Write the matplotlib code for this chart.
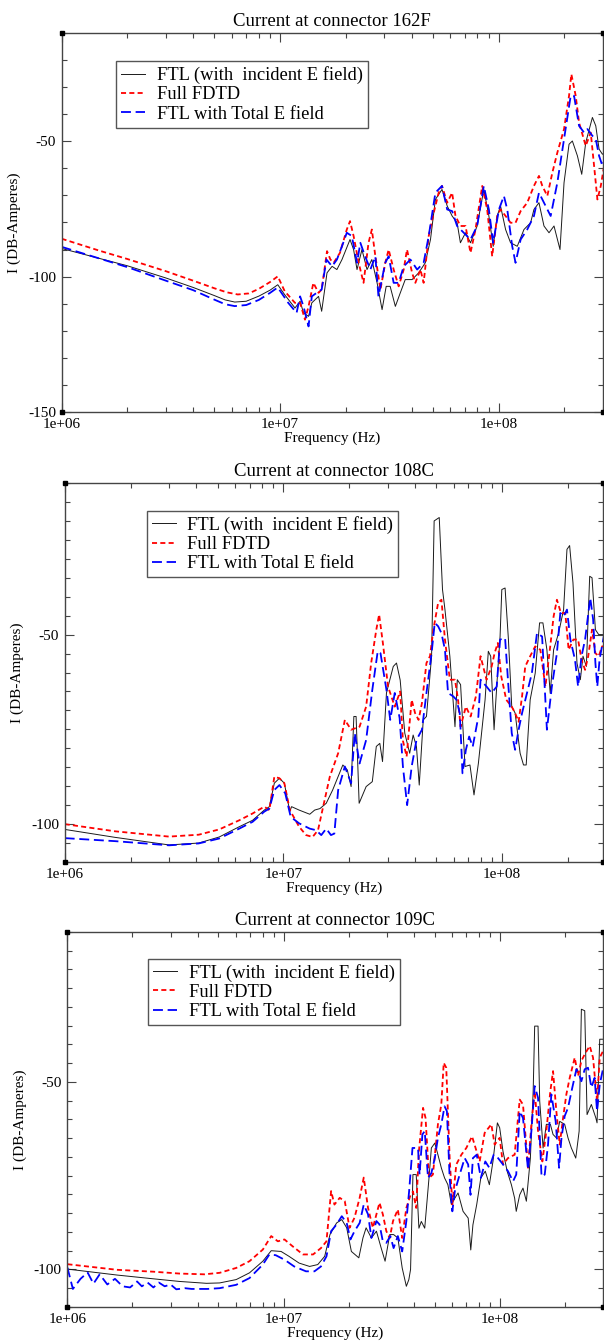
import numpy as np
import matplotlib
matplotlib.use('Agg')
import matplotlib.pyplot as plt
from matplotlib.ticker import FixedLocator, LogLocator, MultipleLocator, NullFormatter

plt.rcParams['font.family'] = ['Liberation Serif', 'DejaVu Serif']
plt.rcParams['axes.unicode_minus'] = False

# frequencies in MHz, currents in dB-Amperes

# ---- connector 162F ----
f162_ftl = [1, 2, 3, 4, 5, 5.6, 6.2, 7, 8, 9, 9.76, 10.5, 11.7, 12.35, 12.8, 13.5, 13.97, 15.0, 15.5, 16.4, 17.3,
            18.2, 19.2, 20.9, 21.7, 22.5, 23.7, 25.0, 26.3, 27.8, 29.3, 30.6, 31.9, 33.7, 35.5, 37.4, 40.2,
            43.1, 46.2, 48.8, 51.4, 55.1, 58.2, 61.3, 64.6, 66.9, 70.6, 74.4, 79.8, 85.6, 90.3, 94.5, 98.6,
            102.1, 107.7, 113.5, 121.8, 130.7, 140.2, 145.2, 153.1, 161.4, 170.2, 179.4, 191.1, 199.4, 210.2,
            217.7, 229.6, 240.3, 250.6, 268.9, 278.6, 288.5, 298.9, 306]
i162_ftl = [-89.6, -96, -100.5, -104, -107, -108.6, -109.4, -109.1, -107.2, -105, -103, -106.7, -111.6, -109.1,
            -113.4, -114.7, -109.7, -107.3, -112.8, -98.6, -96.2, -97.4, -93.7, -86.3, -90.0, -97.4, -90.0,
            -97.4, -93.7, -102.3, -112.2, -103.6, -103.6, -111.0, -106.0, -101.1, -101.1, -98.6, -94.9, -86.3,
            -71.5, -67.8, -73.9, -77.6, -80.1, -87.5, -83.8, -87.5, -81.3, -67.8, -77.6, -88.8, -77.6, -73.9,
            -82.6, -87.5, -88.8, -82.6, -80.1, -75.2, -72.7, -81.3, -83.8, -81.3, -90.0, -65.3, -51.1, -49.9,
            -55.4, -62.2, -50.5, -41.2, -44.3, -52.9, -54.8, -54.2]

f162_fdtd = [1, 1.5, 2, 3, 4, 5, 5.7, 6.4, 7.2, 8, 9, 9.76, 10.5, 11.7, 12.35, 13.0, 13.5, 14.2, 15.0, 15.5, 16.4,
             17.0, 17.6, 18.8, 20.2, 20.9, 21.7, 22.9, 24.1, 25.4, 26.3, 27.3, 28.8, 30.3, 31.4, 33.1, 34.9,
             36.8, 38.1, 40.2, 41.6, 43.9, 45.4, 47.9, 50.5, 53.2, 55.1, 58.2, 61.3, 63.5, 66.9, 70.6, 74.4,
             78.4, 84.2, 88.7, 93.5, 98.6, 102.1, 107.7, 113.5, 119.6, 126.2, 135.3, 145.2, 153.1, 158.6, 167.2,
             176.3, 185.8, 199.4, 210.2, 215.4, 225.5, 233.6, 250.6, 264.2, 273.7, 283.5, 293.7, 306]
i162_fdtd = [-86, -90.5, -93.5, -98, -101.5, -104.3, -105.8, -106.6, -106.2, -104.5, -102, -99.9, -105.4, -109.7,
             -109.7, -115.9, -111, -102.3, -106, -104.8, -90.6, -93.7, -94.9, -91.2, -82.6, -79.5, -85.0, -94.9,
             -102.3, -87.5, -82.6, -92.5, -104.8, -94.9, -90.0, -97.4, -103.6, -97.4, -90.0, -98.6, -102.3,
             -97.4, -102.3, -85.0, -76.4, -69.0, -66.5, -72.7, -69.0, -77.6, -81.3, -81.3, -91.2, -82.6, -66.5,
             -75.2, -92.5, -77.6, -75.2, -77.6, -80.1, -80.1, -75.8, -72.7, -66.5, -62.8, -66.5, -70.2, -61.6,
             -54.2, -45.5, -33.2, -25.2, -33.2, -43.1, -51.7, -46.8, -59.1, -71.5, -66.5, -57.9]

f162_tot = [1, 2, 3, 4, 5, 5.6, 6.2, 7, 8, 9, 9.76, 10.9, 11.9, 12.35, 12.8, 13.5, 13.97, 14.7, 15.5, 16.3, 17.3,
            18.2, 19.2, 20.2, 21.3, 22.5, 23.3, 24.5, 25.9, 27.3, 28.2, 30.3, 31.4, 33.1, 34.9, 36.8, 39.5, 42.4,
            45.4, 47.9, 51.4, 55.1, 58.2, 61.3, 64.6, 69.3, 74.4, 79.8, 85.6, 90.3, 94.5, 100.4, 105.8, 109.6,
            115.5, 119.6, 126.2, 135.3, 145.2, 153.1, 161.4, 173.2, 185.8, 199.4, 213.9, 221.6, 233.6, 246.3,
            255.1, 268.9, 278.6, 288.5, 298.9, 306]
i162_tot = [-89, -96.5, -101.5, -105, -108.5, -110.2, -110.9, -110.5, -108.6, -106, -104, -109.7, -113.4, -107.3,
            -111.0, -118.4, -107.3, -106.0, -104.8, -93.7, -96.2, -93.7, -88.8, -83.8, -85.0, -94.9, -87.5,
            -92.5, -97.4, -92.5, -107.3, -94.9, -92.5, -102.3, -102.3, -96.2, -93.7, -97.4, -94.9, -85.0, -69.0,
            -66.5, -75.2, -75.8, -81.3, -83.8, -86.3, -81.3, -66.5, -75.2, -87.5, -75.2, -70.2, -75.2, -88.8,
            -94.9, -86.3, -82.6, -77.6, -69.0, -72.7, -77.6, -65.3, -49.2, -33.2, -33.2, -44.3, -46.8, -45.5,
            -48.0, -49.2, -55.4, -59.1, -56.6]

# ---- connector 108C ----
f108_ftl = [1, 1.7, 3, 4.1, 5.09, 6.28, 7.23, 8.18, 8.63, 9.09, 9.59, 10.1, 10.7, 10.9, 11.8, 13.2, 13.9, 14.7,
            15.7, 16.8, 18.7, 19.6, 20.4, 21.0, 21.5, 22.2, 23.9, 25.5, 26.6, 27.6, 28.4, 29.6, 31.8, 32.9,
            34.2, 35.9, 37.8, 39.2, 40.6, 41.8, 43.6, 45.1, 47.6, 48.9, 51.6, 53.4, 54.8, 57.7, 60.9, 62.4,
            64.6, 67.7, 71.3, 74.4, 77.9, 83.6, 86.5, 88.7, 91.9, 94.5, 97.9, 99.7, 103.2, 106.9, 110.7, 114.7,
            120.9, 125.3, 128.9, 134.4, 141.7, 148.4, 153.7, 160.3, 166.0, 172.0, 181.3, 191.1, 198.0, 203.6,
            210.9, 220.0, 227.9, 234.4, 242.8, 251.5, 257.8, 267.1, 276.6, 293.7, 306]
i108_ftl = [-101.4, -103.5, -105.5, -105, -103.4, -100.7, -99.0, -96.3, -95.4, -89.2, -87.9, -89.2, -96.7, -95.4,
            -96.3, -97.4, -96.3, -95.9, -94.5, -91.0, -84.4, -85.7, -90.1, -71.6, -71.6, -94.5, -90.1, -88.8,
            -79.5, -78.7, -83.5, -65.4, -58.4, -57.5, -62, -76.0, -81.3, -76.5, -79.6, -89.7, -72.5, -71.6,
            -55.7, -20.0, -19.1, -38.1, -43.4, -55.7, -74.3, -61.9, -63.2, -84.8, -84.4, -92.3, -84.0, -67.2,
            -54.4, -55.7, -75.1, -63.7, -50.5, -38.1, -37.7, -51.3, -69.0, -70.7, -81.3, -84.4, -84.4, -67.2,
            -60.2, -46.9, -46.9, -54.0, -65.5, -54.0, -49.6, -43.4, -27.5, -26.5, -36.3, -57.5, -61.9, -55.7,
            -58.4, -34.6, -35.0, -48.7, -50.0, -50.0, -50.0]

f108_fdtd = [1, 1.7, 3, 4.1, 5.09, 6.28, 7.23, 8.18, 8.63, 9.09, 9.59, 10.1, 10.7, 11.8, 12.7, 13.6, 14.4, 15.2,
             16.3, 17.8, 19.1, 20.4, 22.3, 23.9, 25.2, 26.6, 27.4, 28.5, 30.1, 32.3, 34.2, 35.2, 36.6, 38.6,
             40.0, 41.5, 43.0, 45.1, 46.8, 48.5, 51.0, 52.8, 54.8, 57.7, 60.9, 62.9, 64.6, 68.3, 71.8, 75.9,
             79.7, 84.9, 89.6, 92.4, 95.6, 99.1, 104.5, 110.7, 114.7, 119.0, 123.4, 127.6, 134.4, 141.7, 149.6,
             157.8, 166.0, 172.0, 178.1, 185.8, 194.5, 201.5, 211.9, 222.6, 230.8, 239.6, 247.6, 257.8, 267.1,
             276.6, 286.6, 306]
i108_fdtd = [-100, -101.9, -103.3, -102.8, -101.4, -99.0, -97.2, -95.4, -96.3, -87.5, -87.9, -89.2, -96.3,
             -100.7, -102.9, -103.4, -101.6, -95.4, -87.5, -81.3, -72.5, -75.1, -74.3, -69.0, -57.5, -48.7,
             -44.7, -52.2, -63.7, -69.0, -65, -78, -82.2, -67.2, -70.7, -72.5, -68.1, -57.5, -55.7, -48.7,
             -41.6, -40.8, -51.3, -61.9, -61.9, -67.2, -74.3, -69.0, -71.6, -66.3, -55.7, -61.9, -58.4, -54.9,
             -52.2, -61.0, -67.2, -69.0, -70.7, -73.0, -66.3, -58.4, -55.7, -53.1, -54.0, -63.7, -53.1, -45.2,
             -40.8, -44.3, -44.3, -54.0, -51.3, -51.3, -56.6, -59.3, -55.7, -48.7, -54.9, -55.7, -53.1, -53.1]

f108_tot = [1, 1.7, 3, 4.1, 5.09, 6.28, 7.23, 8.18, 8.63, 9.09, 9.59, 10.2, 10.8, 11.8, 13.2, 14.1, 14.9, 15.7,
            16.5, 17.1, 17.8, 19.1, 20.4, 21.2, 22.3, 23.9, 25.5, 27.0, 27.8, 29.6, 30.8, 32.3, 34.0, 35.2,
            36.8, 38.6, 40.6, 43.0, 45.1, 47.6, 49.2, 51.0, 52.8, 54.8, 56.6, 59.8, 61.9, 64.0, 64.6, 65.9,
            68.3, 70.7, 73.4, 77.9, 79.7, 84.9, 89.6, 94.5, 97.9, 103.2, 106.9, 110.7, 114.7, 119.0, 123.4,
            130.0, 136.8, 144.4, 152.4, 160.3, 168.9, 178.1, 184.6, 191.1, 198.0, 205.2, 215.4, 222.6, 230.8,
            239.6, 253.0, 260.8, 267.1, 272.5, 279.0, 293.7, 306]
i108_tot = [-103.7, -104.5, -105.6, -105.1, -103.8, -101.2, -99.4, -96.7, -95.9, -91.0, -89.7, -91.9, -98.1,
            -99.8, -101.2, -101.6, -102.9, -101.2, -102.9, -102.5, -91.0, -84.8, -89.2, -76.0, -84.0, -77.8,
            -64.6, -54.4, -54.9, -64.6, -72.5, -65.4, -72, -84.8, -95, -84.8, -77.8, -75.1, -65.4, -54.9,
            -46.9, -47.8, -49.6, -54.0, -65.4, -66.3, -67.2, -70.7, -75.1, -86.6, -80.4, -76.9, -79.6, -71.6,
            -61.9, -63.7, -65.4, -63.7, -51.3, -50.9, -63.7, -76.0, -80.4, -75.1, -70.7, -65.4, -60.2, -49.6,
            -50.5, -75.1, -63.7, -54.9, -44.3, -45.2, -43.4, -51.3, -56.6, -63.7, -55.7, -51.3, -40.3, -46.0,
            -57.5, -63.7, -56.6, -49.6, -48]

# ---- connector 109C ----
f109_ftl = [1, 1.7, 2.5, 3.3, 4.4, 5.06, 6.04, 6.96, 8.02, 8.77, 9.74, 10.6, 11.8, 13.2, 14.4, 15.5, 16.4, 17.6,
            18.6, 19.6, 20.6, 22.3, 23.3, 24.1, 25.5, 26.9, 28.3, 29.5, 31.0, 32.3, 33.8, 35.4, 37.0, 38.0,
            38.7, 39.7, 41.1, 42.3, 43.4, 45.0, 47.1, 48.3, 50.1, 51.8, 53.7, 55.6, 57.6, 59.8, 62.0, 64.2,
            67.7, 71.5, 73.5, 75.2, 78.3, 81.8, 85.8, 89.6, 93.1, 97.6, 100, 103.6, 108.3, 113.3, 117.3, 119.3,
            123.8, 128.2, 132.9, 138.7, 142.9, 145.2, 150.5, 153.2, 158.8, 164.4, 171.6, 176.6, 182.9, 189.6,
            199.9, 207.1, 214.6, 224.9, 233.2, 238.8, 247.5, 253.7, 265.6, 278.6, 282.2, 290.4, 306]
i109_ftl = [-99.9, -101.5, -102.5, -103.2, -103.7, -103.6, -102.7, -100.9, -97.8, -95.0, -95.2, -96.5, -98.3,
            -99.2, -98.7, -96.5, -90.7, -87.6, -86.7, -88.9, -95.2, -96.9, -91.6, -88.9, -91.6, -89.8, -94.3,
            -97.8, -90.7, -90.7, -91.6, -99.6, -104.5, -102.7, -100, -74.7, -74.7, -89.0, -87.2, -89.0, -75.6,
            -67.6, -66.3, -69.4, -72.9, -75.6, -77.4, -82.7, -81.0, -79.6, -84.5, -86.3, -94.8, -88.1, -82.7,
            -75.6, -73.8, -77.4, -71.2, -60.9, -62.2, -68.5, -73.8, -77.4, -81.0, -84.5, -80.1, -78.3, -81.8,
            -70.3, -52.4, -35.1, -35.1, -55.1, -67.6, -61.3, -61.3, -64.0, -64.9, -60.5, -61.3, -64.9, -67.6,
            -70.3, -63.1, -30.6, -31.0, -58.7, -56.0, -59.6, -60.9, -38.6, -38.6]

f109_fdtd = [1, 1.7, 2.5, 3.3, 4.3, 5.06, 6.04, 6.96, 8.02, 8.77, 9.41, 10.1, 11.0, 12.3, 13.7, 14.9, 15.8, 16.6,
             17.2, 18.2, 19.2, 20.2, 21.3, 22.5, 23.5, 24.6, 25.9, 26.9, 27.8, 28.8, 29.9, 31.0, 32.1, 33.8,
             35.4, 37.0, 38.5, 39.7, 41.1, 42.3, 44.2, 45.4, 47.1, 49.1, 51.8, 53.7, 55.1, 56.6, 58.7, 60.4,
             63.0, 66.5, 70.1, 74.5, 80.8, 85.2, 91.5, 94.8, 100, 103.6, 109.3, 117.3, 123.8, 128.2, 135.3,
             140.2, 145.2, 150.5, 157.6, 164.4, 171.6, 176.6, 182.9, 189.6, 196.5, 203.5, 210.9, 222.5, 230.5,
             238.8, 247.5, 261.0, 270.4, 282.2, 290.4, 306]
i109_fdtd = [-98.6, -100.1, -100.6, -101.1, -101.3, -100.9, -99.6, -97.8, -94.7, -91.1, -92.5, -92.0, -93.8,
             -96.0, -96.0, -94.3, -92.5, -79.1, -82.7, -80.9, -81.8, -88.9, -86.2, -80.9, -75.5, -83.6, -88.9,
             -85.3, -82.2, -85.3, -89.8, -91.6, -87.1, -84.0, -91.6, -83.6, -80.5, -79.2, -83.6, -68.5, -56.9,
             -59.6, -75.6, -74.7, -61.3, -56.0, -44.9, -46.2, -70.3, -82.7, -72.0, -69.4, -67.6, -64.5, -71.2,
             -63.6, -61.3, -66.7, -64.9, -72.0, -70.3, -69.4, -54.7, -56.0, -72.9, -61.3, -52.4, -63.1, -71.2,
             -63.1, -52.4, -47.1, -57.8, -66.7, -59.6, -53.3, -48.9, -43.5, -48.4, -44.4, -42.6, -40.4, -43.5,
             -55.1, -43.5, -40.9]

f109_tot = [1, 1.06, 1.15, 1.24, 1.32, 1.41, 1.53, 1.66, 1.8, 1.95, 2.1, 2.21, 2.35, 2.5, 2.65, 2.82, 3.0, 3.19,
            3.5, 3.76, 4.44, 5.06, 6.04, 6.96, 8.02, 8.6, 9.2, 10.1, 11.2, 12.7, 13.9, 14.9, 15.8, 16.6, 17.6,
            18.6, 19.6, 20.4, 21.3, 22.5, 23.5, 24.6, 25.5, 26.9, 27.8, 28.8, 29.9, 31.2, 32.3, 33.8, 35.4,
            37.0, 38.1, 39.5, 41.9, 42.6, 43.9, 45.0, 46.6, 48.3, 50.1, 51.8, 53.7, 55.6, 57.0, 58.7, 60.4,
            62.0, 65.3, 68.9, 71.5, 73.3, 75.2, 78.3, 81.8, 85.8, 89.6, 93.8, 98.3, 103.6, 109.3, 115.3, 119.3,
            123.8, 128.2, 135.3, 140.2, 145.2, 150.5, 156.2, 161.6, 167.4, 173.4, 181.6, 188.3, 193.2, 199.9,
            207.1, 216.8, 226.5, 233.2, 238.8, 247.5, 256.3, 265.6, 275.0, 282.2, 290.4, 306]
i109_tot = [-99.5, -105.2, -102.5, -100.8, -103.8, -101.3, -104, -102.5, -104.5, -104.8, -103.2, -104.5, -103.5,
            -104.8, -103.5, -104.5, -104, -105.3, -105, -105.2, -105.2, -105.0, -104.1, -102.3, -98.7, -96.0,
            -96.2, -97.4, -99.2, -100.5, -100.5, -99.2, -96.5, -89.8, -88.0, -85.8, -87.6, -92.0, -89.8, -87.6,
            -82.7, -85.3, -91.6, -87.1, -88.0, -92.5, -92.9, -91.1, -94.3, -91.1, -95.2, -87.1, -79.2, -67.6,
            -67.6, -74.7, -64.0, -63.1, -75.6, -74.3, -70.3, -64.9, -61.3, -56.5, -57.8, -75.6, -84.5, -79.2,
            -74.7, -70.3, -72.0, -80.1, -70.3, -69.4, -75.6, -71.2, -72.9, -69.4, -70.3, -72.0, -73.8, -76.5,
            -74.7, -57.8, -59.6, -73.4, -63.1, -51.1, -54.2, -75.2, -74.7, -66.7, -53.3, -60.5, -72.9, -64.9,
            -59.1, -56.9, -51.5, -46.6, -48.0, -49.8, -46.6, -46.2, -51.5, -48.9, -57.8, -50.7, -44.4]

titles = ['Current at connector 162F', 'Current at connector 108C', 'Current at connector 109C']
labels = ['FTL (with  incident E field)', 'Full FDTD', 'FTL with Total E field']

series = [
    [(f162_ftl, i162_ftl), (f162_fdtd, i162_fdtd), (f162_tot, i162_tot)],
    [(f108_ftl, i108_ftl), (f108_fdtd, i108_fdtd), (f108_tot, i108_tot)],
    [(f109_ftl, i109_ftl), (f109_fdtd, i109_fdtd), (f109_tot, i109_tot)],
]

# layout of each panel (figure fractions), axis limits, legend anchor
rects = [[0.102, 0.6928, 0.896, 0.2826],
         [0.1071, 0.3572, 0.8916, 0.2826],
         [0.1116, 0.0254, 0.8864, 0.2796]]
xmax = [3.0e8, 2.9e8, 3.0e8]
ymin = [-150, -110, -110]
yminor = [10, 5, 5]
leg_xy = [(0.101, 0.926), (0.152, 0.927), (0.151, 0.929)]

fig = plt.figure(figsize=(6.04, 13.41), dpi=100)

for k in range(3):
    ax = fig.add_axes(rects[k])
    (fa, ia), (fb, ib), (fc, ic) = series[k]
    ax.plot(np.array(fa) * 1e6, ia, color='#1a1a1a', lw=0.7, label=labels[0])
    ax.plot(np.array(fb) * 1e6, ib, color='#ff0000', lw=1.3, dashes=(2.8, 1.8), label=labels[1])
    ax.plot(np.array(fc) * 1e6, ic, color='#0000ff', lw=1.3, dashes=(5.5, 2.6), label=labels[2])

    ax.set_xscale('log')
    ax.set_xlim(1e6, xmax[k])
    ax.set_ylim(ymin[k], -10)
    ax.xaxis.set_major_locator(FixedLocator([1e6, 1e7, 1e8]))
    ax.set_xticklabels(['1e+06', '1e+07', '1e+08'])
    ax.xaxis.set_minor_locator(LogLocator(base=10, subs=np.arange(2, 10), numticks=20))
    ax.xaxis.set_minor_formatter(NullFormatter())
    ax.yaxis.set_major_locator(MultipleLocator(50))
    ax.yaxis.set_minor_locator(MultipleLocator(yminor[k]))

    ax.tick_params(which='both', direction='in', top=True, right=True,
                   color='#444444', labelcolor='black', labelsize=11)
    ax.tick_params(which='major', length=6.5, width=0.8)
    ax.tick_params(which='minor', length=3.6, width=0.8)
    ax.tick_params(axis='x', pad=4.5)
    ax.tick_params(axis='y', pad=4)
    for s in ax.spines.values():
        s.set_color('#444444')
        s.set_linewidth(1.0)

    ax.set_title(titles[k], fontsize=13.5, pad=5)
    ax.set_xlabel('Frequency (Hz)', fontsize=11, labelpad=0)
    ax.set_ylabel('I (DB-Amperes)', fontsize=11, labelpad=5)

    leg = ax.legend(loc='upper left', bbox_to_anchor=leg_xy[k], borderaxespad=0, fontsize=13.3,
                    frameon=True, fancybox=False, edgecolor='#555555', framealpha=1,
                    handlelength=1.3, handletextpad=0.6, borderpad=0.28, labelspacing=0.12)
    leg.get_frame().set_linewidth(1.0)

    # little black squares at the frame corners
    ax.plot([0, 1, 0, 1], [0, 0, 1, 1], 's', color='black', ms=3.5,
            transform=ax.transAxes, clip_on=False, zorder=5)

fig.savefig('out.png', dpi=100)
